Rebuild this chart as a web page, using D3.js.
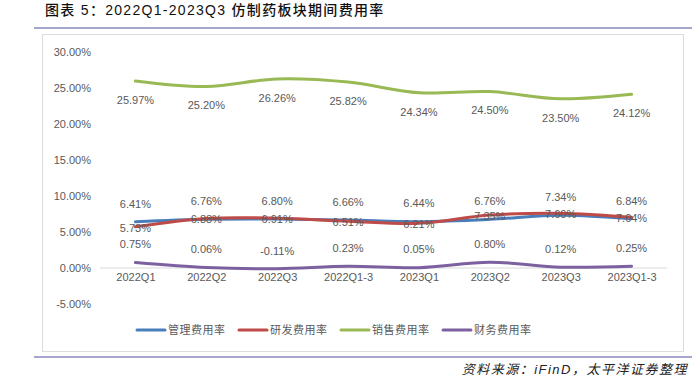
<!DOCTYPE html>
<html>
<head>
<meta charset="utf-8">
<script src="https://cdn.jsdelivr.net/npm/d3@7"></script>
<style>
  body { margin: 0; background: #fff; }
  svg text { font-family: "Liberation Sans", Arial, "Noto Sans CJK SC", sans-serif; }
</style>
</head>
<body>
<div id="chart"></div>
<script>
const width = 697;
const height = 384;

// data
const periods = ["2022Q1", "2022Q2", "2022Q3", "2022Q1-3", "2023Q1", "2023Q2", "2023Q3", "2023Q1-3"];
const adminRate = [6.41, 6.76, 6.80, 6.66, 6.44, 6.76, 7.34, 6.84];
const rdRate = [5.73, 6.88, 6.91, 6.51, 6.21, 7.35, 7.60, 7.04];
const salesRate = [25.97, 25.20, 26.26, 25.82, 24.34, 24.50, 23.50, 24.12];
const financeRate = [0.75, 0.06, -0.11, 0.23, 0.05, 0.80, 0.12, 0.25];
const yTicks = [-5, 0, 5, 10, 15, 20, 25, 30];

const series = [
    {name: "管理费用率", values: adminRate, color: "#4a7ebb", dy: -18},
    {name: "研发费用率", values: rdRate, color: "#be4b48", dy: 1},
    {name: "销售费用率", values: salesRate, color: "#98b954", dy: 19},
    {name: "财务费用率", values: financeRate, color: "#7d60a0", dy: -18}
];

var svg = d3.select("#chart")
    .append("svg")
    .attr("width", width)
    .attr("height", height);

// title + rules
svg.append("text")
    .attr("x", 45)
    .attr("y", 15)
    .attr("font-size", "14px")
    .attr("font-family", "Noto Sans CJK SC")
    .attr("font-weight", 500)
    .attr("letter-spacing", "1.3px")
    .attr("fill", "#111")
    .text("图表 5：2022Q1-2023Q3 仿制药板块期间费用率");

svg.append("line")
    .attr("x1", 34).attr("x2", 692)
    .attr("y1", 28).attr("y2", 28)
    .attr("stroke", "#a6a6cc").attr("stroke-width", 2);

svg.append("rect")
    .attr("x", 42.5).attr("y", 34.5)
    .attr("width", 641).attr("height", 317)
    .attr("fill", "none")
    .attr("stroke", "#dcdcdc");

svg.append("line")
    .attr("x1", 34).attr("x2", 692)
    .attr("y1", 357).attr("y2", 357)
    .attr("stroke", "#a6a6cc").attr("stroke-width", 2);

svg.append("text")
    .attr("x", 688)
    .attr("y", 374)
    .attr("text-anchor", "end")
    .attr("font-size", "13px")
    .attr("font-style", "italic")
    .attr("letter-spacing", "1.5px")
    .attr("font-family", "Noto Sans CJK SC")
    .attr("fill", "#222")
    .text("资料来源：iFinD，太平洋证券整理");

// scales
var xScale = d3.scalePoint()
    .domain(periods)
    .range([100, 667])
    .padding(0.5);

var yScale = d3.scaleLinear()
    .domain([-5, 30])
    .range([304, 52]);

// y axis labels
var yAxis = svg.append("g")
    .attr("transform", "translate(91,0)")
    .call(d3.axisLeft(yScale).tickValues(yTicks).tickSize(0).tickPadding(0)
        .tickFormat(d => d.toFixed(2) + "%"));
yAxis.select(".domain").remove();
yAxis.selectAll("text")
    .attr("font-size", "11px")
    .attr("fill", "#595959");

// zero line
svg.append("line")
    .attr("x1", 100).attr("x2", 667)
    .attr("y1", yScale(0)).attr("y2", yScale(0))
    .attr("stroke", "#d9d9d9").attr("stroke-width", 1);

// x labels
var xAxis = svg.append("g")
    .attr("transform", "translate(0,273)")
    .call(d3.axisBottom(xScale).tickSize(0).tickPadding(0));
xAxis.select(".domain").remove();
xAxis.selectAll("text")
    .attr("dy", "0.71em")
    .attr("font-size", "11px")
    .attr("fill", "#595959");

var line = d3.line()
    .x((d, i) => xScale(periods[i]))
    .y(d => yScale(d))
    .curve(d3.curveCatmullRom.alpha(0.5));

series.forEach(function(s) {
    svg.append("path")
        .datum(s.values)
        .attr("d", line)
        .attr("fill", "none")
        .attr("stroke", s.color)
        .attr("stroke-width", 3)
        .attr("stroke-linecap", "round");
});

// value labels
series.forEach(function(s) {
    svg.append("g")
        .selectAll("text")
        .data(s.values)
        .join("text")
            .attr("x", (d, i) => xScale(periods[i]))
            .attr("y", d => yScale(d) + s.dy)
            .attr("dy", "0.35em")
            .attr("text-anchor", "middle")
            .attr("font-size", "11px")
            .attr("fill", "#595959")
            .text(d => d.toFixed(2) + "%");
});

// legend
var legend = svg.append("g")
    .attr("transform", "translate(137,330)");

var entries = legend.selectAll("g")
    .data(series)
    .join("g")
        .attr("transform", (d, i) => `translate(${i * 102},0)`);

entries.append("line")
    .attr("x1", 0).attr("x2", 28)
    .attr("stroke", d => d.color)
    .attr("stroke-width", 3)
    .attr("stroke-linecap", "round");

entries.append("text")
    .attr("x", 31)
    .attr("dy", "0.35em")
    .attr("font-size", "11px")
    .attr("font-family", "Noto Sans CJK SC")
    .attr("letter-spacing", "0.5px")
    .attr("fill", "#595959")
    .text(d => d.name);
</script>
</body>
</html>
